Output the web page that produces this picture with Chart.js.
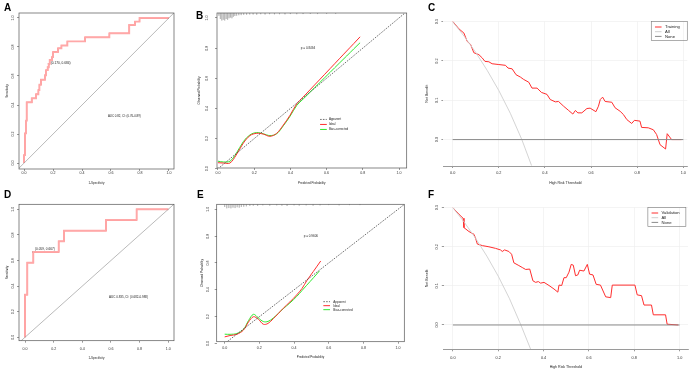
<!DOCTYPE html>
<html>
<head>
<meta charset="utf-8">
<script src="https://cdn.jsdelivr.net/npm/chart.js@4.4.1/dist/chart.umd.min.js"></script>
<style>
    html, body { margin: 0; padding: 0; background: #fff; }
    #fig { position: relative; width: 689px; height: 370px; overflow: hidden; }
    #fig canvas { position: absolute; }
</style>
</head>
<body>
<div id="fig">
    <canvas id="pA" width="195" height="185" style="left:0;top:0"></canvas>
    <canvas id="pB" width="225" height="185" style="left:195px;top:0"></canvas>
    <canvas id="pC" width="269" height="185" style="left:420px;top:0"></canvas>
    <canvas id="pD" width="195" height="185" style="left:0;top:185px"></canvas>
    <canvas id="pE" width="225" height="185" style="left:195px;top:185px"></canvas>
    <canvas id="pF" width="269" height="185" style="left:420px;top:185px"></canvas>
</div>
<script>
// ---- data ----
const unitTicks = [0, 0.2, 0.4, 0.6, 0.8, 1.0];
const nbTicks = [0, 0.1, 0.2, 0.3];

// A: training ROC (1-specificity, sensitivity) at each jump
const rocAfpr = [0, 0, 0.007, 0.014, 0.018, 0.053, 0.083, 0.099, 0.106, 0.117, 0.145, 0.152, 0.163, 0.170, 0.177, 0.193, 0.200, 0.234, 0.258, 0.299, 0.421, 0.589, 0.726, 0.766, 0.797, 1.0];
const rocAtpr = [0, 0.055, 0.205, 0.292, 0.418, 0.446, 0.474, 0.503, 0.540, 0.575, 0.605, 0.640, 0.660, 0.684, 0.710, 0.730, 0.765, 0.790, 0.810, 0.838, 0.866, 0.894, 0.952, 0.975, 1.0, 1.0];
const cutA = [0.170, 0.684];

// D: validation ROC
const rocDfpr = [0, 0, 0.016, 0.058, 0.235, 0.272, 0.565, 0.779, 1.0];
const rocDtpr = [0, 0.333, 0.583, 0.667, 0.750, 0.833, 0.917, 1.0, 1.0];
const cutD = [0.058, 0.667];

// B: training calibration
const calBx = [0.0, 0.03, 0.066, 0.10, 0.14, 0.177, 0.214, 0.25, 0.287, 0.324, 0.361, 0.398, 0.435, 0.471, 0.508, 0.56, 0.619, 0.67, 0.711, 0.75, 0.785];
const calBideal = [0.04, 0.038, 0.038, 0.09, 0.17, 0.22, 0.235, 0.23, 0.215, 0.235, 0.29, 0.355, 0.43, 0.476, 0.523, 0.589, 0.664, 0.729, 0.781, 0.83, 0.875];
const calBbias = [0.05, 0.045, 0.05, 0.10, 0.18, 0.225, 0.24, 0.232, 0.22, 0.232, 0.285, 0.348, 0.42, 0.463, 0.507, 0.569, 0.639, 0.70, 0.748, 0.795, 0.836];
const rugBx = [0.005, 0.013, 0.021, 0.029, 0.037, 0.045, 0.053, 0.061, 0.069, 0.077, 0.085, 0.093, 0.103, 0.115, 0.128, 0.142, 0.158, 0.175, 0.194, 0.214, 0.236, 0.26, 0.285, 0.312, 0.34, 0.37, 0.40, 0.435, 0.47, 0.51, 0.55, 0.60, 0.65];
const rugBlen = [0.018, 0.04, 0.05, 0.045, 0.05, 0.04, 0.045, 0.035, 0.03, 0.035, 0.025, 0.02, 0.018, 0.015, 0.014, 0.012, 0.012, 0.01, 0.01, 0.012, 0.008, 0.01, 0.008, 0.009, 0.008, 0.009, 0.007, 0.008, 0.007, 0.006, 0.007, 0.006, 0.006];

// E: validation calibration
const calEidealX = [0.0, 0.031, 0.07, 0.108, 0.137, 0.166, 0.195, 0.223, 0.25, 0.28, 0.31, 0.338, 0.376, 0.415, 0.446, 0.473, 0.512, 0.554];
const calEideal = [0.05, 0.06, 0.069, 0.10, 0.16, 0.20, 0.18, 0.144, 0.15, 0.185, 0.225, 0.263, 0.31, 0.362, 0.41, 0.467, 0.538, 0.615];
const calEbiasX = [0.0, 0.031, 0.07, 0.108, 0.137, 0.166, 0.195, 0.223, 0.25, 0.28, 0.31, 0.338, 0.376, 0.415, 0.446, 0.473, 0.512, 0.546];
const calEbias = [0.07, 0.069, 0.075, 0.105, 0.17, 0.218, 0.19, 0.164, 0.165, 0.19, 0.225, 0.26, 0.302, 0.35, 0.395, 0.434, 0.49, 0.54];
const rugEx = [0.0, 0.012, 0.024, 0.036, 0.048, 0.06, 0.072, 0.084, 0.096, 0.11, 0.125, 0.145, 0.165, 0.19, 0.22, 0.26, 0.30, 0.33, 0.36, 0.40, 0.43, 0.47, 0.51, 0.55, 0.60, 0.66, 0.72, 0.78];
const rugElen = [0.02, 0.03, 0.028, 0.03, 0.025, 0.028, 0.022, 0.025, 0.02, 0.018, 0.015, 0.012, 0.01, 0.012, 0.008, 0.01, 0.008, 0.01, 0.012, 0.008, 0.01, 0.008, 0.01, 0.008, 0.006, 0.008, 0.006, 0.006];

// C: training decision curve
const dcaCx = [0, 0.027, 0.049, 0.063, 0.078, 0.092, 0.114, 0.128, 0.14, 0.157, 0.171, 0.2, 0.229, 0.24, 0.258, 0.275, 0.294, 0.308, 0.33, 0.344, 0.366, 0.385, 0.409, 0.423, 0.445, 0.459, 0.481, 0.503, 0.521, 0.532, 0.543, 0.56, 0.582, 0.596, 0.621, 0.632, 0.64, 0.65, 0.661, 0.69, 0.704, 0.726, 0.74, 0.755, 0.776, 0.788, 0.812, 0.819, 0.848, 0.87, 0.884, 0.899, 0.923, 0.93, 0.949, 0.992];
const dcaCy = [0.301, 0.282, 0.271, 0.25, 0.242, 0.221, 0.216, 0.208, 0.199, 0.198, 0.193, 0.191, 0.189, 0.182, 0.18, 0.165, 0.159, 0.153, 0.146, 0.131, 0.131, 0.12, 0.115, 0.102, 0.096, 0.097, 0.085, 0.074, 0.065, 0.074, 0.068, 0.068, 0.079, 0.08, 0.071, 0.085, 0.102, 0.108, 0.097, 0.095, 0.081, 0.072, 0.064, 0.051, 0.041, 0.049, 0.047, 0.031, 0.03, 0.025, 0.013, -0.013, -0.024, 0.015, 0.0, 0.0];
const allCx = [0, 0.05, 0.1, 0.15, 0.2, 0.25, 0.3, 0.342];
const allCy = [0.3, 0.263, 0.222, 0.176, 0.125, 0.067, 0.0, -0.066];

// F: validation decision curve
const dcaFx = [0, 0.027, 0.045, 0.049, 0.071, 0.093, 0.1, 0.108, 0.13, 0.159, 0.188, 0.21, 0.218, 0.228, 0.247, 0.259, 0.269, 0.291, 0.306, 0.321, 0.339, 0.353, 0.365, 0.377, 0.387, 0.402, 0.424, 0.446, 0.463, 0.468, 0.48, 0.49, 0.5, 0.512, 0.522, 0.531, 0.541, 0.551, 0.559, 0.578, 0.593, 0.603, 0.618, 0.632, 0.651, 0.674, 0.696, 0.703, 0.803, 0.813, 0.832, 0.843, 0.876, 0.884, 0.938, 0.945, 0.994];
const dcaFy = [0.3, 0.283, 0.273, 0.249, 0.239, 0.232, 0.222, 0.207, 0.203, 0.2, 0.196, 0.192, 0.188, 0.192, 0.188, 0.181, 0.159, 0.152, 0.147, 0.142, 0.143, 0.113, 0.109, 0.111, 0.107, 0.109, 0.101, 0.092, 0.084, 0.102, 0.101, 0.121, 0.121, 0.135, 0.155, 0.153, 0.126, 0.128, 0.14, 0.138, 0.155, 0.13, 0.128, 0.104, 0.102, 0.072, 0.07, 0.102, 0.102, 0.077, 0.075, 0.051, 0.051, 0.026, 0.026, 0.002, 0.0];
const allFx = [0, 0.05, 0.1, 0.15, 0.2, 0.25, 0.3, 0.343];
const allFy = [0.3, 0.263, 0.222, 0.176, 0.125, 0.067, 0.0, -0.062];
const noneX = [0, 1];
const noneY = [0, 0];

// ---- helpers ----
const FONT = '"Liberation Sans", Arial, Helvetica, sans-serif';
const RED = '#ff2e2e';
const GREEN = '#2ee82e';

const pts = (xs, ys) => xs.map((x, i) => ({ x, y: ys[i] }));
const rug = (xs, lens, top) => xs.flatMap((x, i) => [{ x, y: top }, { x, y: top - lens[i] }, { x, y: null }]);
const line = (data, color, width, more) => Object.assign({
    data, showLine: true, borderColor: color, backgroundColor: color,
    borderWidth: width, pointRadius: 0, fill: false
}, more || {});

const extrasPlugin = {
    id: 'extras',
    afterDatasetsDraw(chart, args, o) {
        const { ctx, chartArea: a, scales: { x, y } } = chart;
        ctx.save();
        if (o.box) {
            ctx.strokeStyle = '#555';
            ctx.lineWidth = 0.7;
            ctx.strokeRect(a.left, a.top, a.right - a.left, a.bottom - a.top);
        }
        (o.notes || []).forEach(n => {
            ctx.font = n.size + 'px ' + FONT;
            ctx.fillStyle = '#222';
            ctx.textAlign = n.align || 'left';
            ctx.textBaseline = 'middle';
            ctx.fillText(n.text, x.getPixelForValue(n.x), y.getPixelForValue(n.y));
        });
        const lg = o.legend;
        if (lg) {
            const L = x.getPixelForValue(lg.x);
            const T = y.getPixelForValue(lg.y);
            if (lg.boxW) {
                ctx.strokeStyle = '#777';
                ctx.lineWidth = 0.6;
                ctx.strokeRect(L, T, lg.boxW, lg.boxH);
            }
            lg.items.forEach((it, i) => {
                const ry = T + lg.first + i * lg.gap;
                ctx.beginPath();
                ctx.setLineDash(it.dash || []);
                ctx.strokeStyle = it.color;
                ctx.lineWidth = it.width || 1;
                ctx.moveTo(L + lg.lineFrom, ry);
                ctx.lineTo(L + lg.lineTo, ry);
                ctx.stroke();
                ctx.setLineDash([]);
                ctx.font = lg.size + 'px ' + FONT;
                ctx.fillStyle = '#222';
                ctx.textAlign = 'left';
                ctx.textBaseline = 'middle';
                ctx.fillText(it.text, L + lg.textAt, ry);
            });
        }
        if (o.letter) {
            ctx.font = 'bold 10px ' + FONT;
            ctx.fillStyle = '#000';
            ctx.textAlign = 'left';
            ctx.textBaseline = 'alphabetic';
            ctx.fillText(o.letter[0], o.letter[1], o.letter[2]);
        }
        ctx.restore();
    }
};

function axes(p) {
    const tickFont = { family: FONT, size: p.tick };
    const titleFont = { family: FONT, size: p.title };
    return {
        x: {
            type: 'linear', min: p.x[0], max: p.x[1],
            afterBuildTicks: s => { s.ticks = p.xt.map(v => ({ value: v })); },
            afterFit: s => { s.height = p.xh; },
            ticks: { font: tickFont, color: '#333', padding: p.xtp, autoSkip: false, maxRotation: 0, callback: v => v.toFixed(1) },
            grid: { drawOnChartArea: !!p.grid, color: '#ececec', lineWidth: 0.6, tickLength: 2, tickColor: '#555', tickWidth: 0.6 },
            border: { display: !!p.xline, color: '#9a9a9a', width: 1 },
            title: { display: true, text: p.xTitle, font: titleFont, color: '#222', padding: { top: 0, bottom: p.xtt } }
        },
        y: {
            type: 'linear', min: p.y[0], max: p.y[1],
            afterBuildTicks: s => { s.ticks = p.yt.map(v => ({ value: v })); },
            afterFit: s => { s.width = p.yw; },
            ticks: { font: tickFont, color: '#333', padding: p.ytp, autoSkip: false, minRotation: 90, maxRotation: 90, crossAlign: 'center', callback: v => v.toFixed(1) },
            grid: { drawOnChartArea: !!p.grid, color: '#ececec', lineWidth: 0.6, tickLength: 2, tickColor: '#555', tickWidth: 0.6 },
            border: { display: false },
            title: { display: true, text: p.yTitle, font: titleFont, color: '#222', padding: { top: p.ytt, bottom: 0 } }
        }
    };
}

function panel(id, p, datasets, extras) {
    return new Chart(document.getElementById(id), {
        type: 'scatter',
        data: { datasets },
        options: {
            responsive: false,
            animation: false,
            devicePixelRatio: 1,
            layout: { padding: { left: 0, top: p.top, right: p.right, bottom: 0 } },
            plugins: { legend: { display: false }, tooltip: { enabled: false }, extras },
            scales: axes(p)
        },
        plugins: [extrasPlugin]
    });
}

const diag = [{ x: -0.06, y: -0.06 }, { x: 1.06, y: 1.06 }];
const calLegend = (x, y, gap, lineTo, textAt) => ({
    x, y, first: 0, gap, lineFrom: 0, lineTo, textAt, size: 3,
    items: [
        { text: 'Apparent', color: '#333', dash: [1.6, 1.2], width: 0.7 },
        { text: 'Ideal', color: RED, width: 1 },
        { text: 'Bias-corrected', color: GREEN, width: 1 }
    ]
});
const dcaLegend = (x, name, boxW) => ({
    x, y: 0.3005, boxW, boxH: 19, first: 5.5, gap: 4.7, lineFrom: 3.7, lineTo: 10.3, textAt: 13.7, size: 4.2,
    items: [
        { text: name, color: RED, width: 1 },
        { text: 'All', color: '#cfcfcf', width: 1 },
        { text: 'None', color: '#8a8a8a', width: 1 }
    ]
});

// ---- A: ROC training ----
panel('pA', {
    top: 13, right: 21, x: [-0.035, 1.035], y: [-0.041, 1.034], xt: unitTicks, yt: unitTicks,
    xh: 16, yw: 19, tick: 3.6, title: 3, xtp: 0.14, ytp: 1.2, xtt: 0.5, ytt: 4.9,
    xTitle: '1-Specificity', yTitle: 'Sensitivity'
}, [
    line(diag, '#8c8c8c', 0.6),
    line(pts(rocAfpr, rocAtpr), '#ffa8a8', 1.8, { stepped: 'before' }),
    line(pts(rocAfpr, rocAtpr), RED, 1.1, { stepped: 'before' }),
    { data: [{ x: cutA[0], y: cutA[1] }], pointRadius: 0.9, backgroundColor: '#333', borderWidth: 0 }
], {
    box: true, letter: ['A', 4, 11],
    notes: [
        { x: 0.184, y: 0.688, text: '(0.170, 0.684)', size: 3.2 },
        { x: 0.579, y: 0.324, text: 'AUC 0.82, CI: (0.76-0.89)', size: 2.9 }
    ]
});

// ---- B: calibration training ----
const yMaxB = 1.033;
panel('pB', {
    top: 13, right: 13.3, x: [-0.0055, 1.0425], y: [0.005, yMaxB], xt: unitTicks, yt: unitTicks,
    xh: 17, yw: 22, tick: 3.6, title: 3, xtp: 1.14, ytp: 5.8, xtt: 0.5, ytt: 2.2,
    xTitle: 'Predicted Probability', yTitle: 'Observed Probability'
}, [
    line(rug(rugBx, rugBlen, yMaxB), '#a0a0a0', 0.4),
    line(diag, '#333', 0.7, { borderDash: [1.6, 1.2] }),
    line(pts(calBx, calBideal), RED, 1, { tension: 0.35 }),
    line(pts(calBx, calBbias), GREEN, 1, { tension: 0.35 })
], {
    box: true, letter: ['B', 1, 19],
    notes: [{ x: 0.497, y: 0.8, text: 'p = 0.8494', size: 3, align: 'center' }],
    legend: calLegend(0.564, 0.327, 5, 6.7, 8.8)
});

// ---- C: decision curve training ----
panel('pC', {
    top: 21.5, right: 1, x: [-0.04, 1.017], y: [-0.0672, 0.3005], xt: unitTicks, yt: nbTicks,
    xh: 19, yw: 23.4, tick: 3.8, title: 3.6, xtp: 3.0, ytp: 1.46, xtt: 0.14, ytt: 4.84,
    grid: true, xline: true,
    xTitle: 'High Risk Threshold', yTitle: 'Net Benefit'
}, [
    line(pts(noneX, noneY), '#8a8a8a', 1),
    line(pts(allCx, allCy), '#cfcfcf', 0.9),
    line(pts(dcaCx, dcaCy), RED, 1)
], {
    letter: ['C', 8, 11],
    legend: dcaLegend(0.861, 'Training', 36)
});

// ---- D: ROC validation ----
panel('pD', {
    top: 19.3, right: 21, x: [-0.042, 1.04], y: [-0.027, 1.039], xt: unitTicks, yt: unitTicks,
    xh: 29.3, yw: 19, tick: 3.6, title: 3, xtp: 4.44, ytp: 1.2, xtt: 10.5, ytt: 4.9,
    xTitle: '1-Specificity', yTitle: 'Sensitivity'
}, [
    line(diag, '#8c8c8c', 0.6),
    line(pts(rocDfpr, rocDtpr), '#ffa8a8', 1.8, { stepped: 'before' }),
    line(pts(rocDfpr, rocDtpr), RED, 1.1, { stepped: 'before' }),
    { data: [{ x: cutD[0], y: cutD[1] }], pointRadius: 0.9, backgroundColor: '#333', borderWidth: 0 }
], {
    box: true, letter: ['D', 4, 13],
    notes: [
        { x: 0.07, y: 0.69, text: '(0.059, 0.667)', size: 3.2 },
        { x: 0.586, y: 0.315, text: 'AUC 0.835, CI: (0.682-0.988)', size: 3 }
    ]
});

// ---- E: calibration validation ----
const yMaxE = 1.037;
panel('pE', {
    top: 19.3, right: 15.7, x: [-0.046, 1.036], y: [0.014, yMaxE], xt: unitTicks, yt: unitTicks,
    xh: 28.3, yw: 21.7, tick: 3.6, title: 3, xtp: 2.44, ytp: 3.9, xtt: 10.9, ytt: 4.9,
    xTitle: 'Predicted Probability', yTitle: 'Observed Probability'
}, [
    line(rug(rugEx, rugElen, yMaxE), '#a0a0a0', 0.4),
    line(diag, '#333', 0.7, { borderDash: [1.6, 1.2] }),
    line(pts(calEidealX, calEideal), RED, 1, { tension: 0.35 }),
    line(pts(calEbiasX, calEbias), GREEN, 1, { tension: 0.35 })
], {
    box: true, letter: ['E', 2, 13],
    notes: [{ x: 0.497, y: 0.796, text: 'p = 0.9606', size: 3, align: 'center' }],
    legend: calLegend(0.569, 0.312, 4, 6.7, 10)
});

// ---- F: decision curve validation ----
panel('pF', {
    top: 22.5, right: 1, x: [-0.04, 1.037], y: [-0.0622, 0.3005], xt: unitTicks, yt: nbTicks,
    xh: 20.7, yw: 23.8, tick: 3.8, title: 3.6, xtp: 4.1, ytp: 1.86, xtt: 1.14, ytt: 4.54,
    grid: true, xline: true,
    xTitle: 'High Risk Threshold', yTitle: 'Net Benefit'
}, [
    line(pts(noneX, noneY), '#8a8a8a', 1),
    line(pts(allFx, allFy), '#cfcfcf', 0.9),
    line(pts(dcaFx, dcaFy), RED, 1)
], {
    letter: ['F', 8, 13],
    legend: dcaLegend(0.86, 'Validation', 38)
});
</script>
</body>
</html>
